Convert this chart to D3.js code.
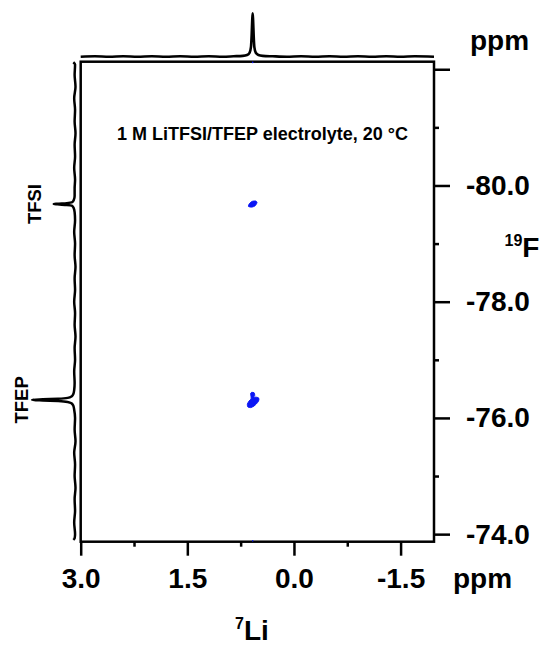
<!DOCTYPE html>
<html><head><meta charset="utf-8">
<script src="https://cdn.jsdelivr.net/npm/d3@7"></script>
<style>
body{margin:0;background:#fff}
text{font-family:"Liberation Sans",Arial,Helvetica,sans-serif;font-weight:bold;fill:#000}
</style>
</head><body>
<svg id="chart" width="543" height="645"></svg>
<script>
// ---- data ----
const liTicks = [3.0, 1.5, 0.0, -1.5];          // 7Li axis labels (ppm)
const liMinor = [2.25, 0.75, -0.75];
const fTicks = [-82, -80, -78, -76, -74];       // 19F axis major ticks (ppm)
const fLabels = [-80, -78, -76, -74];
const fMinor = [-81, -79, -77, -75];
const liDomain = [3.0, -1.97];
const fDomain = [-82.13, -73.87];
const title = "1 M LiTFSI/TFEP electrolyte, 20 °C";

// 7Li projection (ppm, relative intensity)
const liProjection = [
  [3.00,0.00],[2.80,0.01],[2.60,0.00],[2.40,0.01],[2.20,0.00],[2.00,0.01],[1.80,0.00],
  [1.60,0.01],[1.40,0.00],[1.20,0.01],[1.00,0.00],[0.85,0.01],[0.72,0.02],[0.66,0.04],
  [0.625,0.09],[0.605,0.22],[0.595,0.50],[0.587,0.85],[0.581,1.00],[0.575,0.85],
  [0.567,0.50],[0.557,0.22],[0.537,0.09],[0.50,0.04],[0.44,0.02],[0.30,0.01],[0.10,0.00],
  [-0.10,0.01],[-0.30,0.00],[-0.50,0.01],[-0.70,0.00],[-0.90,0.01],[-1.10,0.00],
  [-1.30,0.01],[-1.50,0.00],[-1.70,0.01],[-1.97,0.00]
];
// 19F projection (ppm, relative intensity)
const fProjection = [
  [-82.12,0.05],[-82.08,0.01],[-81.90,0.02],[-81.70,0.00],[-81.50,0.03],[-81.30,0.01],
  [-81.10,0.02],[-80.90,0.00],[-80.70,0.02],[-80.50,0.01],[-80.30,0.03],[-80.10,0.01],
  [-79.95,0.02],[-79.82,0.02],[-79.75,0.04],[-79.71,0.08],[-79.695,0.20],[-79.685,0.42],
  [-79.68,0.50],[-79.675,0.42],[-79.665,0.20],[-79.65,0.08],[-79.61,0.04],[-79.54,0.02],
  [-79.40,0.01],[-79.20,0.03],[-79.00,0.01],[-78.80,0.02],[-78.60,0.00],[-78.40,0.02],
  [-78.20,0.01],[-78.00,0.03],[-77.80,0.01],[-77.60,0.02],[-77.40,0.00],[-77.20,0.02],
  [-77.00,0.01],[-76.80,0.03],[-76.60,0.02],[-76.48,0.03],[-76.41,0.05],[-76.37,0.09],
  [-76.345,0.18],[-76.33,0.40],[-76.32,0.75],[-76.31,1.00],[-76.30,0.75],[-76.29,0.40],
  [-76.275,0.18],[-76.25,0.09],[-76.21,0.05],[-76.14,0.03],[-76.00,0.01],[-75.80,0.02],
  [-75.60,0.00],[-75.40,0.03],[-75.20,0.01],[-75.00,0.02],[-74.80,0.00],[-74.60,0.02],
  [-74.40,0.01],[-74.20,0.03],[-74.00,0.01],[-73.93,0.02],[-73.90,0.05]
];
// 2D cross-peak contours (Li ppm, F ppm)
const crossTFSI = [
  [0.640,-79.640],[0.625,-79.690],[0.585,-79.727],[0.538,-79.732],[0.520,-79.705],
  [0.545,-79.652],[0.592,-79.628]
];
const crossTFEP = [
  [0.595,-76.440],[0.560,-76.432],[0.552,-76.388],[0.566,-76.362],[0.516,-76.354],
  [0.492,-76.334],[0.500,-76.285],[0.530,-76.240],[0.562,-76.205],[0.607,-76.178],
  [0.648,-76.188],[0.655,-76.237],[0.632,-76.290],[0.604,-76.324],[0.603,-76.360],
  [0.610,-76.414]
];
// tiny contour specks at the frame edges
const specks = [[0.58,-73.885],[0.58,-82.118]];
const fPeakLabels = [["TFSI",-79.68],["TFEP",-76.31]];

// ---- drawing ----
const svg = d3.select("#chart");
const L = 80.7, R = 434, T = 61.7, B = 541.7;
const x = d3.scaleLinear().domain(liDomain).range([L, R]);
const y = d3.scaleLinear().domain(fDomain).range([T, B]);
const topI = d3.scaleLinear().domain([0,1]).range([56.7, 13.3]);
const leftI = d3.scaleLinear().domain([0,1]).range([75.5, 32]);

// frame
svg.append("rect").attr("x",L).attr("y",T).attr("width",R-L).attr("height",B-T)
  .attr("fill","none").attr("stroke","#000").attr("stroke-width",2.5);

// cross peaks
const contour = d3.line().x(d=>x(d[0])).y(d=>y(d[1])).curve(d3.curveCardinalClosed.tension(0.3));
[crossTFSI, crossTFEP].forEach(c=>{
  svg.append("path").attr("d",contour(c)).attr("fill","#0b16f5").attr("stroke","#0b16f5").attr("stroke-width",1);
});
svg.selectAll("circle.speck").data(specks).join("circle").attr("class","speck")
  .attr("cx",d=>x(d[0])).attr("cy",d=>y(d[1])).attr("r",0.8).attr("fill","#0b16f5");

// projections
svg.append("path").datum(liProjection)
  .attr("d", d3.line().x(d=>x(d[0])).y(d=>topI(d[1])).curve(d3.curveMonotoneX))
  .attr("fill","none").attr("stroke","#000").attr("stroke-width",2.6).attr("stroke-linejoin","round");
svg.append("path").datum(fProjection)
  .attr("d", d3.line().x(d=>leftI(d[1])).y(d=>y(d[0])).curve(d3.curveMonotoneY))
  .attr("fill","none").attr("stroke","#000").attr("stroke-width",2.5).attr("stroke-linejoin","round");

// bottom axis
const fmt = d => d.toFixed(1);
const bx = svg.append("g").attr("transform",`translate(0,${B})`)
  .call(d3.axisBottom(x).tickValues(liTicks).tickSize(14).tickPadding(12).tickFormat(fmt));
const bxm = svg.append("g").attr("transform",`translate(0,${B})`)
  .call(d3.axisBottom(x).tickValues(liMinor).tickSize(5).tickFormat(""));
// right axis
const ry = svg.append("g").attr("transform",`translate(${R},0)`)
  .call(d3.axisRight(y).tickValues(fTicks).tickSize(16).tickPadding(16)
    .tickFormat(d => fLabels.includes(d) ? fmt(d) : ""));
const rym = svg.append("g").attr("transform",`translate(${R},0)`)
  .call(d3.axisRight(y).tickValues(fMinor).tickSize(5).tickFormat(""));
[bx,bxm,ry,rym].forEach(g=>{
  g.select(".domain").remove();
  g.selectAll(".tick line").attr("stroke","#000").attr("stroke-width",2.5);
  g.selectAll(".tick text").style("font-size","28px").style("font-family",'"Liberation Sans",Arial,sans-serif').style("font-weight","bold").attr("fill","#000");
});

// unit labels
svg.append("text").attr("x",453).attr("y",588).style("font-size","28px").text("ppm");
svg.append("text").attr("x",470).attr("y",50).style("font-size","28px").text("ppm");
const li = svg.append("text").attr("x",252).attr("y",640).attr("text-anchor","middle");
li.append("tspan").style("font-size","16px").attr("dy","-11").text("7");
li.append("tspan").style("font-size","28px").attr("dy","11").text("Li");
const fl = svg.append("text").attr("x",522).attr("y",257).attr("text-anchor","middle");
fl.append("tspan").style("font-size","16px").attr("dy","-11").text("19");
fl.append("tspan").style("font-size","28px").attr("dy","11").text("F");

// title
svg.append("text").attr("x",262.5).attr("y",140).attr("text-anchor","middle")
  .style("font-size","18px").text(title);

// peak labels on the 19F projection
const lblX = {"TFSI":41, "TFEP":28};
fPeakLabels.forEach(([t,v])=>{
  svg.append("text").attr("transform",`translate(${lblX[t]},${y(v)}) rotate(-90)`)
    .attr("text-anchor","middle").style("font-size","18.5px").text(t);
});
</script>
</body></html>
